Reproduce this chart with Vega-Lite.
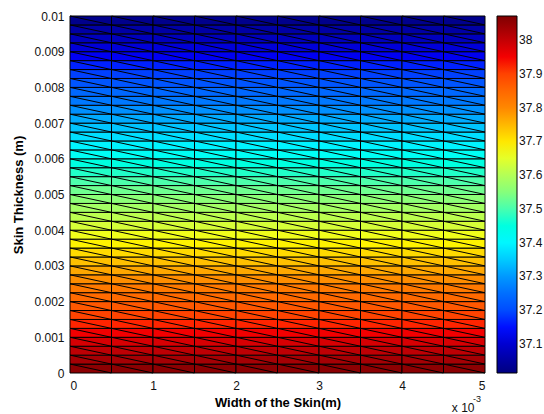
{
  "$schema": "https://vega.github.io/schema/vega-lite/v6.json",
  "width": 415,
  "height": 357,
  "autosize": {"type": "none"},
  "padding": {"left": 70, "top": 16, "right": 59, "bottom": 41},
  "background": "white",
  "config": {
    "view": {"stroke": null},
    "font": "Liberation Sans",
    "axis": {
      "grid": false,
      "domain": false,
      "ticks": false,
      "labelOverlap": false,
      "labelFont": "Liberation Sans",
      "labelFontSize": 12,
      "labelColor": "#111111",
      "titleFont": "Liberation Sans",
      "titleFontSize": 13,
      "titleFontWeight": "bold",
      "titleColor": "#000000"
    }
  },
  "datasets": {
    "cells": [
      {"x":0,"x2":0.5,"y":0,"y2":0.25,"t":38.058},{"x":0.5,"x2":1,"y":0,"y2":0.25,"t":38.058},{"x":1,"x2":1.5,"y":0,"y2":0.25,"t":38.058},{"x":1.5,"x2":2,"y":0,"y2":0.25,"t":38.058},{"x":2,"x2":2.5,"y":0,"y2":0.25,"t":38.058},{"x":2.5,"x2":3,"y":0,"y2":0.25,"t":38.058},{"x":3,"x2":3.5,"y":0,"y2":0.25,"t":38.058},{"x":3.5,"x2":4,"y":0,"y2":0.25,"t":38.058},{"x":4,"x2":4.5,"y":0,"y2":0.25,"t":38.058},{"x":4.5,"x2":5,"y":0,"y2":0.25,"t":38.058},
      {"x":0,"x2":0.5,"y":0.25,"y2":0.5,"t":38.031},{"x":0.5,"x2":1,"y":0.25,"y2":0.5,"t":38.031},{"x":1,"x2":1.5,"y":0.25,"y2":0.5,"t":38.031},{"x":1.5,"x2":2,"y":0.25,"y2":0.5,"t":38.031},{"x":2,"x2":2.5,"y":0.25,"y2":0.5,"t":38.031},{"x":2.5,"x2":3,"y":0.25,"y2":0.5,"t":38.031},{"x":3,"x2":3.5,"y":0.25,"y2":0.5,"t":38.031},{"x":3.5,"x2":4,"y":0.25,"y2":0.5,"t":38.031},{"x":4,"x2":4.5,"y":0.25,"y2":0.5,"t":38.031},{"x":4.5,"x2":5,"y":0.25,"y2":0.5,"t":38.031},
      {"x":0,"x2":0.5,"y":0.5,"y2":0.75,"t":38.005},{"x":0.5,"x2":1,"y":0.5,"y2":0.75,"t":38.005},{"x":1,"x2":1.5,"y":0.5,"y2":0.75,"t":38.005},{"x":1.5,"x2":2,"y":0.5,"y2":0.75,"t":38.005},{"x":2,"x2":2.5,"y":0.5,"y2":0.75,"t":38.005},{"x":2.5,"x2":3,"y":0.5,"y2":0.75,"t":38.005},{"x":3,"x2":3.5,"y":0.5,"y2":0.75,"t":38.005},{"x":3.5,"x2":4,"y":0.5,"y2":0.75,"t":38.005},{"x":4,"x2":4.5,"y":0.5,"y2":0.75,"t":38.005},{"x":4.5,"x2":5,"y":0.5,"y2":0.75,"t":38.005},
      {"x":0,"x2":0.5,"y":0.75,"y2":1,"t":37.979},{"x":0.5,"x2":1,"y":0.75,"y2":1,"t":37.979},{"x":1,"x2":1.5,"y":0.75,"y2":1,"t":37.979},{"x":1.5,"x2":2,"y":0.75,"y2":1,"t":37.979},{"x":2,"x2":2.5,"y":0.75,"y2":1,"t":37.979},{"x":2.5,"x2":3,"y":0.75,"y2":1,"t":37.979},{"x":3,"x2":3.5,"y":0.75,"y2":1,"t":37.979},{"x":3.5,"x2":4,"y":0.75,"y2":1,"t":37.979},{"x":4,"x2":4.5,"y":0.75,"y2":1,"t":37.979},{"x":4.5,"x2":5,"y":0.75,"y2":1,"t":37.979},
      {"x":0,"x2":0.5,"y":1,"y2":1.25,"t":37.952},{"x":0.5,"x2":1,"y":1,"y2":1.25,"t":37.952},{"x":1,"x2":1.5,"y":1,"y2":1.25,"t":37.952},{"x":1.5,"x2":2,"y":1,"y2":1.25,"t":37.952},{"x":2,"x2":2.5,"y":1,"y2":1.25,"t":37.952},{"x":2.5,"x2":3,"y":1,"y2":1.25,"t":37.952},{"x":3,"x2":3.5,"y":1,"y2":1.25,"t":37.952},{"x":3.5,"x2":4,"y":1,"y2":1.25,"t":37.952},{"x":4,"x2":4.5,"y":1,"y2":1.25,"t":37.952},{"x":4.5,"x2":5,"y":1,"y2":1.25,"t":37.952},
      {"x":0,"x2":0.5,"y":1.25,"y2":1.5,"t":37.926},{"x":0.5,"x2":1,"y":1.25,"y2":1.5,"t":37.926},{"x":1,"x2":1.5,"y":1.25,"y2":1.5,"t":37.926},{"x":1.5,"x2":2,"y":1.25,"y2":1.5,"t":37.926},{"x":2,"x2":2.5,"y":1.25,"y2":1.5,"t":37.926},{"x":2.5,"x2":3,"y":1.25,"y2":1.5,"t":37.926},{"x":3,"x2":3.5,"y":1.25,"y2":1.5,"t":37.926},{"x":3.5,"x2":4,"y":1.25,"y2":1.5,"t":37.926},{"x":4,"x2":4.5,"y":1.25,"y2":1.5,"t":37.926},{"x":4.5,"x2":5,"y":1.25,"y2":1.5,"t":37.926},
      {"x":0,"x2":0.5,"y":1.5,"y2":1.75,"t":37.899},{"x":0.5,"x2":1,"y":1.5,"y2":1.75,"t":37.899},{"x":1,"x2":1.5,"y":1.5,"y2":1.75,"t":37.899},{"x":1.5,"x2":2,"y":1.5,"y2":1.75,"t":37.899},{"x":2,"x2":2.5,"y":1.5,"y2":1.75,"t":37.899},{"x":2.5,"x2":3,"y":1.5,"y2":1.75,"t":37.899},{"x":3,"x2":3.5,"y":1.5,"y2":1.75,"t":37.899},{"x":3.5,"x2":4,"y":1.5,"y2":1.75,"t":37.899},{"x":4,"x2":4.5,"y":1.5,"y2":1.75,"t":37.899},{"x":4.5,"x2":5,"y":1.5,"y2":1.75,"t":37.899},
      {"x":0,"x2":0.5,"y":1.75,"y2":2,"t":37.873},{"x":0.5,"x2":1,"y":1.75,"y2":2,"t":37.873},{"x":1,"x2":1.5,"y":1.75,"y2":2,"t":37.873},{"x":1.5,"x2":2,"y":1.75,"y2":2,"t":37.873},{"x":2,"x2":2.5,"y":1.75,"y2":2,"t":37.873},{"x":2.5,"x2":3,"y":1.75,"y2":2,"t":37.873},{"x":3,"x2":3.5,"y":1.75,"y2":2,"t":37.873},{"x":3.5,"x2":4,"y":1.75,"y2":2,"t":37.873},{"x":4,"x2":4.5,"y":1.75,"y2":2,"t":37.873},{"x":4.5,"x2":5,"y":1.75,"y2":2,"t":37.873},
      {"x":0,"x2":0.5,"y":2,"y2":2.25,"t":37.846},{"x":0.5,"x2":1,"y":2,"y2":2.25,"t":37.846},{"x":1,"x2":1.5,"y":2,"y2":2.25,"t":37.846},{"x":1.5,"x2":2,"y":2,"y2":2.25,"t":37.846},{"x":2,"x2":2.5,"y":2,"y2":2.25,"t":37.846},{"x":2.5,"x2":3,"y":2,"y2":2.25,"t":37.846},{"x":3,"x2":3.5,"y":2,"y2":2.25,"t":37.846},{"x":3.5,"x2":4,"y":2,"y2":2.25,"t":37.846},{"x":4,"x2":4.5,"y":2,"y2":2.25,"t":37.846},{"x":4.5,"x2":5,"y":2,"y2":2.25,"t":37.846},
      {"x":0,"x2":0.5,"y":2.25,"y2":2.5,"t":37.82},{"x":0.5,"x2":1,"y":2.25,"y2":2.5,"t":37.82},{"x":1,"x2":1.5,"y":2.25,"y2":2.5,"t":37.82},{"x":1.5,"x2":2,"y":2.25,"y2":2.5,"t":37.82},{"x":2,"x2":2.5,"y":2.25,"y2":2.5,"t":37.82},{"x":2.5,"x2":3,"y":2.25,"y2":2.5,"t":37.82},{"x":3,"x2":3.5,"y":2.25,"y2":2.5,"t":37.82},{"x":3.5,"x2":4,"y":2.25,"y2":2.5,"t":37.82},{"x":4,"x2":4.5,"y":2.25,"y2":2.5,"t":37.82},{"x":4.5,"x2":5,"y":2.25,"y2":2.5,"t":37.82},
      {"x":0,"x2":0.5,"y":2.5,"y2":2.75,"t":37.794},{"x":0.5,"x2":1,"y":2.5,"y2":2.75,"t":37.794},{"x":1,"x2":1.5,"y":2.5,"y2":2.75,"t":37.794},{"x":1.5,"x2":2,"y":2.5,"y2":2.75,"t":37.794},{"x":2,"x2":2.5,"y":2.5,"y2":2.75,"t":37.794},{"x":2.5,"x2":3,"y":2.5,"y2":2.75,"t":37.794},{"x":3,"x2":3.5,"y":2.5,"y2":2.75,"t":37.794},{"x":3.5,"x2":4,"y":2.5,"y2":2.75,"t":37.794},{"x":4,"x2":4.5,"y":2.5,"y2":2.75,"t":37.794},{"x":4.5,"x2":5,"y":2.5,"y2":2.75,"t":37.794},
      {"x":0,"x2":0.5,"y":2.75,"y2":3,"t":37.767},{"x":0.5,"x2":1,"y":2.75,"y2":3,"t":37.767},{"x":1,"x2":1.5,"y":2.75,"y2":3,"t":37.767},{"x":1.5,"x2":2,"y":2.75,"y2":3,"t":37.767},{"x":2,"x2":2.5,"y":2.75,"y2":3,"t":37.767},{"x":2.5,"x2":3,"y":2.75,"y2":3,"t":37.767},{"x":3,"x2":3.5,"y":2.75,"y2":3,"t":37.767},{"x":3.5,"x2":4,"y":2.75,"y2":3,"t":37.767},{"x":4,"x2":4.5,"y":2.75,"y2":3,"t":37.767},{"x":4.5,"x2":5,"y":2.75,"y2":3,"t":37.767},
      {"x":0,"x2":0.5,"y":3,"y2":3.25,"t":37.741},{"x":0.5,"x2":1,"y":3,"y2":3.25,"t":37.741},{"x":1,"x2":1.5,"y":3,"y2":3.25,"t":37.741},{"x":1.5,"x2":2,"y":3,"y2":3.25,"t":37.741},{"x":2,"x2":2.5,"y":3,"y2":3.25,"t":37.741},{"x":2.5,"x2":3,"y":3,"y2":3.25,"t":37.741},{"x":3,"x2":3.5,"y":3,"y2":3.25,"t":37.741},{"x":3.5,"x2":4,"y":3,"y2":3.25,"t":37.741},{"x":4,"x2":4.5,"y":3,"y2":3.25,"t":37.741},{"x":4.5,"x2":5,"y":3,"y2":3.25,"t":37.741},
      {"x":0,"x2":0.5,"y":3.25,"y2":3.5,"t":37.714},{"x":0.5,"x2":1,"y":3.25,"y2":3.5,"t":37.714},{"x":1,"x2":1.5,"y":3.25,"y2":3.5,"t":37.714},{"x":1.5,"x2":2,"y":3.25,"y2":3.5,"t":37.714},{"x":2,"x2":2.5,"y":3.25,"y2":3.5,"t":37.714},{"x":2.5,"x2":3,"y":3.25,"y2":3.5,"t":37.714},{"x":3,"x2":3.5,"y":3.25,"y2":3.5,"t":37.714},{"x":3.5,"x2":4,"y":3.25,"y2":3.5,"t":37.714},{"x":4,"x2":4.5,"y":3.25,"y2":3.5,"t":37.714},{"x":4.5,"x2":5,"y":3.25,"y2":3.5,"t":37.714},
      {"x":0,"x2":0.5,"y":3.5,"y2":3.75,"t":37.688},{"x":0.5,"x2":1,"y":3.5,"y2":3.75,"t":37.688},{"x":1,"x2":1.5,"y":3.5,"y2":3.75,"t":37.688},{"x":1.5,"x2":2,"y":3.5,"y2":3.75,"t":37.688},{"x":2,"x2":2.5,"y":3.5,"y2":3.75,"t":37.688},{"x":2.5,"x2":3,"y":3.5,"y2":3.75,"t":37.688},{"x":3,"x2":3.5,"y":3.5,"y2":3.75,"t":37.688},{"x":3.5,"x2":4,"y":3.5,"y2":3.75,"t":37.688},{"x":4,"x2":4.5,"y":3.5,"y2":3.75,"t":37.688},{"x":4.5,"x2":5,"y":3.5,"y2":3.75,"t":37.688},
      {"x":0,"x2":0.5,"y":3.75,"y2":4,"t":37.661},{"x":0.5,"x2":1,"y":3.75,"y2":4,"t":37.661},{"x":1,"x2":1.5,"y":3.75,"y2":4,"t":37.661},{"x":1.5,"x2":2,"y":3.75,"y2":4,"t":37.661},{"x":2,"x2":2.5,"y":3.75,"y2":4,"t":37.661},{"x":2.5,"x2":3,"y":3.75,"y2":4,"t":37.661},{"x":3,"x2":3.5,"y":3.75,"y2":4,"t":37.661},{"x":3.5,"x2":4,"y":3.75,"y2":4,"t":37.661},{"x":4,"x2":4.5,"y":3.75,"y2":4,"t":37.661},{"x":4.5,"x2":5,"y":3.75,"y2":4,"t":37.661},
      {"x":0,"x2":0.5,"y":4,"y2":4.25,"t":37.635},{"x":0.5,"x2":1,"y":4,"y2":4.25,"t":37.635},{"x":1,"x2":1.5,"y":4,"y2":4.25,"t":37.635},{"x":1.5,"x2":2,"y":4,"y2":4.25,"t":37.635},{"x":2,"x2":2.5,"y":4,"y2":4.25,"t":37.635},{"x":2.5,"x2":3,"y":4,"y2":4.25,"t":37.635},{"x":3,"x2":3.5,"y":4,"y2":4.25,"t":37.635},{"x":3.5,"x2":4,"y":4,"y2":4.25,"t":37.635},{"x":4,"x2":4.5,"y":4,"y2":4.25,"t":37.635},{"x":4.5,"x2":5,"y":4,"y2":4.25,"t":37.635},
      {"x":0,"x2":0.5,"y":4.25,"y2":4.5,"t":37.608},{"x":0.5,"x2":1,"y":4.25,"y2":4.5,"t":37.608},{"x":1,"x2":1.5,"y":4.25,"y2":4.5,"t":37.608},{"x":1.5,"x2":2,"y":4.25,"y2":4.5,"t":37.608},{"x":2,"x2":2.5,"y":4.25,"y2":4.5,"t":37.608},{"x":2.5,"x2":3,"y":4.25,"y2":4.5,"t":37.608},{"x":3,"x2":3.5,"y":4.25,"y2":4.5,"t":37.608},{"x":3.5,"x2":4,"y":4.25,"y2":4.5,"t":37.608},{"x":4,"x2":4.5,"y":4.25,"y2":4.5,"t":37.608},{"x":4.5,"x2":5,"y":4.25,"y2":4.5,"t":37.608},
      {"x":0,"x2":0.5,"y":4.5,"y2":4.75,"t":37.582},{"x":0.5,"x2":1,"y":4.5,"y2":4.75,"t":37.582},{"x":1,"x2":1.5,"y":4.5,"y2":4.75,"t":37.582},{"x":1.5,"x2":2,"y":4.5,"y2":4.75,"t":37.582},{"x":2,"x2":2.5,"y":4.5,"y2":4.75,"t":37.582},{"x":2.5,"x2":3,"y":4.5,"y2":4.75,"t":37.582},{"x":3,"x2":3.5,"y":4.5,"y2":4.75,"t":37.582},{"x":3.5,"x2":4,"y":4.5,"y2":4.75,"t":37.582},{"x":4,"x2":4.5,"y":4.5,"y2":4.75,"t":37.582},{"x":4.5,"x2":5,"y":4.5,"y2":4.75,"t":37.582},
      {"x":0,"x2":0.5,"y":4.75,"y2":5,"t":37.556},{"x":0.5,"x2":1,"y":4.75,"y2":5,"t":37.556},{"x":1,"x2":1.5,"y":4.75,"y2":5,"t":37.556},{"x":1.5,"x2":2,"y":4.75,"y2":5,"t":37.556},{"x":2,"x2":2.5,"y":4.75,"y2":5,"t":37.556},{"x":2.5,"x2":3,"y":4.75,"y2":5,"t":37.556},{"x":3,"x2":3.5,"y":4.75,"y2":5,"t":37.556},{"x":3.5,"x2":4,"y":4.75,"y2":5,"t":37.556},{"x":4,"x2":4.5,"y":4.75,"y2":5,"t":37.556},{"x":4.5,"x2":5,"y":4.75,"y2":5,"t":37.556},
      {"x":0,"x2":0.5,"y":5,"y2":5.25,"t":37.529},{"x":0.5,"x2":1,"y":5,"y2":5.25,"t":37.529},{"x":1,"x2":1.5,"y":5,"y2":5.25,"t":37.529},{"x":1.5,"x2":2,"y":5,"y2":5.25,"t":37.529},{"x":2,"x2":2.5,"y":5,"y2":5.25,"t":37.529},{"x":2.5,"x2":3,"y":5,"y2":5.25,"t":37.529},{"x":3,"x2":3.5,"y":5,"y2":5.25,"t":37.529},{"x":3.5,"x2":4,"y":5,"y2":5.25,"t":37.529},{"x":4,"x2":4.5,"y":5,"y2":5.25,"t":37.529},{"x":4.5,"x2":5,"y":5,"y2":5.25,"t":37.529},
      {"x":0,"x2":0.5,"y":5.25,"y2":5.5,"t":37.503},{"x":0.5,"x2":1,"y":5.25,"y2":5.5,"t":37.503},{"x":1,"x2":1.5,"y":5.25,"y2":5.5,"t":37.503},{"x":1.5,"x2":2,"y":5.25,"y2":5.5,"t":37.503},{"x":2,"x2":2.5,"y":5.25,"y2":5.5,"t":37.503},{"x":2.5,"x2":3,"y":5.25,"y2":5.5,"t":37.503},{"x":3,"x2":3.5,"y":5.25,"y2":5.5,"t":37.503},{"x":3.5,"x2":4,"y":5.25,"y2":5.5,"t":37.503},{"x":4,"x2":4.5,"y":5.25,"y2":5.5,"t":37.503},{"x":4.5,"x2":5,"y":5.25,"y2":5.5,"t":37.503},
      {"x":0,"x2":0.5,"y":5.5,"y2":5.75,"t":37.476},{"x":0.5,"x2":1,"y":5.5,"y2":5.75,"t":37.476},{"x":1,"x2":1.5,"y":5.5,"y2":5.75,"t":37.476},{"x":1.5,"x2":2,"y":5.5,"y2":5.75,"t":37.476},{"x":2,"x2":2.5,"y":5.5,"y2":5.75,"t":37.476},{"x":2.5,"x2":3,"y":5.5,"y2":5.75,"t":37.476},{"x":3,"x2":3.5,"y":5.5,"y2":5.75,"t":37.476},{"x":3.5,"x2":4,"y":5.5,"y2":5.75,"t":37.476},{"x":4,"x2":4.5,"y":5.5,"y2":5.75,"t":37.476},{"x":4.5,"x2":5,"y":5.5,"y2":5.75,"t":37.476},
      {"x":0,"x2":0.5,"y":5.75,"y2":6,"t":37.45},{"x":0.5,"x2":1,"y":5.75,"y2":6,"t":37.45},{"x":1,"x2":1.5,"y":5.75,"y2":6,"t":37.45},{"x":1.5,"x2":2,"y":5.75,"y2":6,"t":37.45},{"x":2,"x2":2.5,"y":5.75,"y2":6,"t":37.45},{"x":2.5,"x2":3,"y":5.75,"y2":6,"t":37.45},{"x":3,"x2":3.5,"y":5.75,"y2":6,"t":37.45},{"x":3.5,"x2":4,"y":5.75,"y2":6,"t":37.45},{"x":4,"x2":4.5,"y":5.75,"y2":6,"t":37.45},{"x":4.5,"x2":5,"y":5.75,"y2":6,"t":37.45},
      {"x":0,"x2":0.5,"y":6,"y2":6.25,"t":37.424},{"x":0.5,"x2":1,"y":6,"y2":6.25,"t":37.424},{"x":1,"x2":1.5,"y":6,"y2":6.25,"t":37.424},{"x":1.5,"x2":2,"y":6,"y2":6.25,"t":37.424},{"x":2,"x2":2.5,"y":6,"y2":6.25,"t":37.424},{"x":2.5,"x2":3,"y":6,"y2":6.25,"t":37.424},{"x":3,"x2":3.5,"y":6,"y2":6.25,"t":37.424},{"x":3.5,"x2":4,"y":6,"y2":6.25,"t":37.424},{"x":4,"x2":4.5,"y":6,"y2":6.25,"t":37.424},{"x":4.5,"x2":5,"y":6,"y2":6.25,"t":37.424},
      {"x":0,"x2":0.5,"y":6.25,"y2":6.5,"t":37.397},{"x":0.5,"x2":1,"y":6.25,"y2":6.5,"t":37.397},{"x":1,"x2":1.5,"y":6.25,"y2":6.5,"t":37.397},{"x":1.5,"x2":2,"y":6.25,"y2":6.5,"t":37.397},{"x":2,"x2":2.5,"y":6.25,"y2":6.5,"t":37.397},{"x":2.5,"x2":3,"y":6.25,"y2":6.5,"t":37.397},{"x":3,"x2":3.5,"y":6.25,"y2":6.5,"t":37.397},{"x":3.5,"x2":4,"y":6.25,"y2":6.5,"t":37.397},{"x":4,"x2":4.5,"y":6.25,"y2":6.5,"t":37.397},{"x":4.5,"x2":5,"y":6.25,"y2":6.5,"t":37.397},
      {"x":0,"x2":0.5,"y":6.5,"y2":6.75,"t":37.371},{"x":0.5,"x2":1,"y":6.5,"y2":6.75,"t":37.371},{"x":1,"x2":1.5,"y":6.5,"y2":6.75,"t":37.371},{"x":1.5,"x2":2,"y":6.5,"y2":6.75,"t":37.371},{"x":2,"x2":2.5,"y":6.5,"y2":6.75,"t":37.371},{"x":2.5,"x2":3,"y":6.5,"y2":6.75,"t":37.371},{"x":3,"x2":3.5,"y":6.5,"y2":6.75,"t":37.371},{"x":3.5,"x2":4,"y":6.5,"y2":6.75,"t":37.371},{"x":4,"x2":4.5,"y":6.5,"y2":6.75,"t":37.371},{"x":4.5,"x2":5,"y":6.5,"y2":6.75,"t":37.371},
      {"x":0,"x2":0.5,"y":6.75,"y2":7,"t":37.344},{"x":0.5,"x2":1,"y":6.75,"y2":7,"t":37.344},{"x":1,"x2":1.5,"y":6.75,"y2":7,"t":37.344},{"x":1.5,"x2":2,"y":6.75,"y2":7,"t":37.344},{"x":2,"x2":2.5,"y":6.75,"y2":7,"t":37.344},{"x":2.5,"x2":3,"y":6.75,"y2":7,"t":37.344},{"x":3,"x2":3.5,"y":6.75,"y2":7,"t":37.344},{"x":3.5,"x2":4,"y":6.75,"y2":7,"t":37.344},{"x":4,"x2":4.5,"y":6.75,"y2":7,"t":37.344},{"x":4.5,"x2":5,"y":6.75,"y2":7,"t":37.344},
      {"x":0,"x2":0.5,"y":7,"y2":7.25,"t":37.318},{"x":0.5,"x2":1,"y":7,"y2":7.25,"t":37.318},{"x":1,"x2":1.5,"y":7,"y2":7.25,"t":37.318},{"x":1.5,"x2":2,"y":7,"y2":7.25,"t":37.318},{"x":2,"x2":2.5,"y":7,"y2":7.25,"t":37.318},{"x":2.5,"x2":3,"y":7,"y2":7.25,"t":37.318},{"x":3,"x2":3.5,"y":7,"y2":7.25,"t":37.318},{"x":3.5,"x2":4,"y":7,"y2":7.25,"t":37.318},{"x":4,"x2":4.5,"y":7,"y2":7.25,"t":37.318},{"x":4.5,"x2":5,"y":7,"y2":7.25,"t":37.318},
      {"x":0,"x2":0.5,"y":7.25,"y2":7.5,"t":37.292},{"x":0.5,"x2":1,"y":7.25,"y2":7.5,"t":37.292},{"x":1,"x2":1.5,"y":7.25,"y2":7.5,"t":37.292},{"x":1.5,"x2":2,"y":7.25,"y2":7.5,"t":37.292},{"x":2,"x2":2.5,"y":7.25,"y2":7.5,"t":37.292},{"x":2.5,"x2":3,"y":7.25,"y2":7.5,"t":37.292},{"x":3,"x2":3.5,"y":7.25,"y2":7.5,"t":37.292},{"x":3.5,"x2":4,"y":7.25,"y2":7.5,"t":37.292},{"x":4,"x2":4.5,"y":7.25,"y2":7.5,"t":37.292},{"x":4.5,"x2":5,"y":7.25,"y2":7.5,"t":37.292},
      {"x":0,"x2":0.5,"y":7.5,"y2":7.75,"t":37.265},{"x":0.5,"x2":1,"y":7.5,"y2":7.75,"t":37.265},{"x":1,"x2":1.5,"y":7.5,"y2":7.75,"t":37.265},{"x":1.5,"x2":2,"y":7.5,"y2":7.75,"t":37.265},{"x":2,"x2":2.5,"y":7.5,"y2":7.75,"t":37.265},{"x":2.5,"x2":3,"y":7.5,"y2":7.75,"t":37.265},{"x":3,"x2":3.5,"y":7.5,"y2":7.75,"t":37.265},{"x":3.5,"x2":4,"y":7.5,"y2":7.75,"t":37.265},{"x":4,"x2":4.5,"y":7.5,"y2":7.75,"t":37.265},{"x":4.5,"x2":5,"y":7.5,"y2":7.75,"t":37.265},
      {"x":0,"x2":0.5,"y":7.75,"y2":8,"t":37.239},{"x":0.5,"x2":1,"y":7.75,"y2":8,"t":37.239},{"x":1,"x2":1.5,"y":7.75,"y2":8,"t":37.239},{"x":1.5,"x2":2,"y":7.75,"y2":8,"t":37.239},{"x":2,"x2":2.5,"y":7.75,"y2":8,"t":37.239},{"x":2.5,"x2":3,"y":7.75,"y2":8,"t":37.239},{"x":3,"x2":3.5,"y":7.75,"y2":8,"t":37.239},{"x":3.5,"x2":4,"y":7.75,"y2":8,"t":37.239},{"x":4,"x2":4.5,"y":7.75,"y2":8,"t":37.239},{"x":4.5,"x2":5,"y":7.75,"y2":8,"t":37.239},
      {"x":0,"x2":0.5,"y":8,"y2":8.25,"t":37.212},{"x":0.5,"x2":1,"y":8,"y2":8.25,"t":37.212},{"x":1,"x2":1.5,"y":8,"y2":8.25,"t":37.212},{"x":1.5,"x2":2,"y":8,"y2":8.25,"t":37.212},{"x":2,"x2":2.5,"y":8,"y2":8.25,"t":37.212},{"x":2.5,"x2":3,"y":8,"y2":8.25,"t":37.212},{"x":3,"x2":3.5,"y":8,"y2":8.25,"t":37.212},{"x":3.5,"x2":4,"y":8,"y2":8.25,"t":37.212},{"x":4,"x2":4.5,"y":8,"y2":8.25,"t":37.212},{"x":4.5,"x2":5,"y":8,"y2":8.25,"t":37.212},
      {"x":0,"x2":0.5,"y":8.25,"y2":8.5,"t":37.186},{"x":0.5,"x2":1,"y":8.25,"y2":8.5,"t":37.186},{"x":1,"x2":1.5,"y":8.25,"y2":8.5,"t":37.186},{"x":1.5,"x2":2,"y":8.25,"y2":8.5,"t":37.186},{"x":2,"x2":2.5,"y":8.25,"y2":8.5,"t":37.186},{"x":2.5,"x2":3,"y":8.25,"y2":8.5,"t":37.186},{"x":3,"x2":3.5,"y":8.25,"y2":8.5,"t":37.186},{"x":3.5,"x2":4,"y":8.25,"y2":8.5,"t":37.186},{"x":4,"x2":4.5,"y":8.25,"y2":8.5,"t":37.186},{"x":4.5,"x2":5,"y":8.25,"y2":8.5,"t":37.186},
      {"x":0,"x2":0.5,"y":8.5,"y2":8.75,"t":37.159},{"x":0.5,"x2":1,"y":8.5,"y2":8.75,"t":37.159},{"x":1,"x2":1.5,"y":8.5,"y2":8.75,"t":37.159},{"x":1.5,"x2":2,"y":8.5,"y2":8.75,"t":37.159},{"x":2,"x2":2.5,"y":8.5,"y2":8.75,"t":37.159},{"x":2.5,"x2":3,"y":8.5,"y2":8.75,"t":37.159},{"x":3,"x2":3.5,"y":8.5,"y2":8.75,"t":37.159},{"x":3.5,"x2":4,"y":8.5,"y2":8.75,"t":37.159},{"x":4,"x2":4.5,"y":8.5,"y2":8.75,"t":37.159},{"x":4.5,"x2":5,"y":8.5,"y2":8.75,"t":37.159},
      {"x":0,"x2":0.5,"y":8.75,"y2":9,"t":37.133},{"x":0.5,"x2":1,"y":8.75,"y2":9,"t":37.133},{"x":1,"x2":1.5,"y":8.75,"y2":9,"t":37.133},{"x":1.5,"x2":2,"y":8.75,"y2":9,"t":37.133},{"x":2,"x2":2.5,"y":8.75,"y2":9,"t":37.133},{"x":2.5,"x2":3,"y":8.75,"y2":9,"t":37.133},{"x":3,"x2":3.5,"y":8.75,"y2":9,"t":37.133},{"x":3.5,"x2":4,"y":8.75,"y2":9,"t":37.133},{"x":4,"x2":4.5,"y":8.75,"y2":9,"t":37.133},{"x":4.5,"x2":5,"y":8.75,"y2":9,"t":37.133},
      {"x":0,"x2":0.5,"y":9,"y2":9.25,"t":37.107},{"x":0.5,"x2":1,"y":9,"y2":9.25,"t":37.107},{"x":1,"x2":1.5,"y":9,"y2":9.25,"t":37.107},{"x":1.5,"x2":2,"y":9,"y2":9.25,"t":37.107},{"x":2,"x2":2.5,"y":9,"y2":9.25,"t":37.107},{"x":2.5,"x2":3,"y":9,"y2":9.25,"t":37.107},{"x":3,"x2":3.5,"y":9,"y2":9.25,"t":37.107},{"x":3.5,"x2":4,"y":9,"y2":9.25,"t":37.107},{"x":4,"x2":4.5,"y":9,"y2":9.25,"t":37.107},{"x":4.5,"x2":5,"y":9,"y2":9.25,"t":37.107},
      {"x":0,"x2":0.5,"y":9.25,"y2":9.5,"t":37.08},{"x":0.5,"x2":1,"y":9.25,"y2":9.5,"t":37.08},{"x":1,"x2":1.5,"y":9.25,"y2":9.5,"t":37.08},{"x":1.5,"x2":2,"y":9.25,"y2":9.5,"t":37.08},{"x":2,"x2":2.5,"y":9.25,"y2":9.5,"t":37.08},{"x":2.5,"x2":3,"y":9.25,"y2":9.5,"t":37.08},{"x":3,"x2":3.5,"y":9.25,"y2":9.5,"t":37.08},{"x":3.5,"x2":4,"y":9.25,"y2":9.5,"t":37.08},{"x":4,"x2":4.5,"y":9.25,"y2":9.5,"t":37.08},{"x":4.5,"x2":5,"y":9.25,"y2":9.5,"t":37.08},
      {"x":0,"x2":0.5,"y":9.5,"y2":9.75,"t":37.054},{"x":0.5,"x2":1,"y":9.5,"y2":9.75,"t":37.054},{"x":1,"x2":1.5,"y":9.5,"y2":9.75,"t":37.054},{"x":1.5,"x2":2,"y":9.5,"y2":9.75,"t":37.054},{"x":2,"x2":2.5,"y":9.5,"y2":9.75,"t":37.054},{"x":2.5,"x2":3,"y":9.5,"y2":9.75,"t":37.054},{"x":3,"x2":3.5,"y":9.5,"y2":9.75,"t":37.054},{"x":3.5,"x2":4,"y":9.5,"y2":9.75,"t":37.054},{"x":4,"x2":4.5,"y":9.5,"y2":9.75,"t":37.054},{"x":4.5,"x2":5,"y":9.5,"y2":9.75,"t":37.054},
      {"x":0,"x2":0.5,"y":9.75,"y2":10,"t":37.027},{"x":0.5,"x2":1,"y":9.75,"y2":10,"t":37.027},{"x":1,"x2":1.5,"y":9.75,"y2":10,"t":37.027},{"x":1.5,"x2":2,"y":9.75,"y2":10,"t":37.027},{"x":2,"x2":2.5,"y":9.75,"y2":10,"t":37.027},{"x":2.5,"x2":3,"y":9.75,"y2":10,"t":37.027},{"x":3,"x2":3.5,"y":9.75,"y2":10,"t":37.027},{"x":3.5,"x2":4,"y":9.75,"y2":10,"t":37.027},{"x":4,"x2":4.5,"y":9.75,"y2":10,"t":37.027},{"x":4.5,"x2":5,"y":9.75,"y2":10,"t":37.027}
    ]
  },
  "layer": [
    {
      "data": {"name": "cells"},
      "mark": {"type": "rect", "stroke": "#000000", "strokeWidth": 1},
      "encoding": {
        "x": {
          "field": "x", "type": "quantitative",
          "scale": {"domain": [0, 5], "nice": false, "zero": false},
          "axis": {"title": "Width of the Skin(m)", "values": [0, 1, 2, 3, 4, 5], "tickCount": 20, "format": "d", "labelPadding": 7, "titlePadding": 5}
        },
        "x2": {"field": "x2"},
        "y": {
          "field": "y", "type": "quantitative",
          "scale": {"domain": [0, 10], "nice": false, "zero": false},
          "axis": {
            "title": "Skin Thickness (m)",
            "values": [0, 1, 2, 3, 4, 5, 6, 7, 8, 9, 10],
            "tickCount": 20,
            "labelExpr": "datum.value == 0 ? '0' : datum.value == 10 ? '0.01' : '0.00' + datum.value",
            "labelPadding": 6, "titlePadding": 8
          }
        },
        "y2": {"field": "y2"},
        "fill": {
          "field": "t", "type": "quantitative",
          "scale": {
            "domain": [37.014, 37.146, 37.278, 37.41, 37.543, 37.675, 37.807, 37.939, 38.071],
            "range": ["#000080", "#0000ff", "#0080ff", "#00ffff", "#80ff80", "#ffff00", "#ff8000", "#ff0000", "#800000"]
          },
          "legend": {
            "title": null, "orient": "right", "direction": "vertical", "offset": 12, "padding": 0,
            "gradientLength": 357, "gradientThickness": 20,
            "gradientStrokeColor": "#000000", "gradientStrokeWidth": 1,
            "values": [37.1, 37.2, 37.3, 37.4, 37.5, 37.6, 37.7, 37.8, 37.9, 38],
            "format": "~g", "labelFont": "Liberation Sans", "labelFontSize": 12, "labelColor": "#111111", "labelOffset": 2
          }
        }
      }
    },
    {
      "data": {"name": "cells"},
      "mark": {"type": "rule", "color": "#000000", "strokeWidth": 1},
      "encoding": {
        "x": {"field": "x", "type": "quantitative"},
        "x2": {"field": "x2"},
        "y": {"field": "y2", "type": "quantitative"},
        "y2": {"field": "y"}
      }
    },
    {
      "data": {"values": [{}]},
      "mark": {"type": "text", "text": "x 10", "align": "left", "baseline": "alphabetic", "dy": 39, "fontSize": 12, "font": "Liberation Sans", "color": "#111111"},
      "encoding": {"x": {"datum": 4.6}, "y": {"datum": 0}}
    },
    {
      "data": {"values": [{}]},
      "mark": {"type": "text", "text": "-3", "align": "left", "baseline": "alphabetic", "dy": 29, "fontSize": 9, "font": "Liberation Sans", "color": "#111111"},
      "encoding": {"x": {"datum": 4.855}, "y": {"datum": 0}}
    }
  ]
}
